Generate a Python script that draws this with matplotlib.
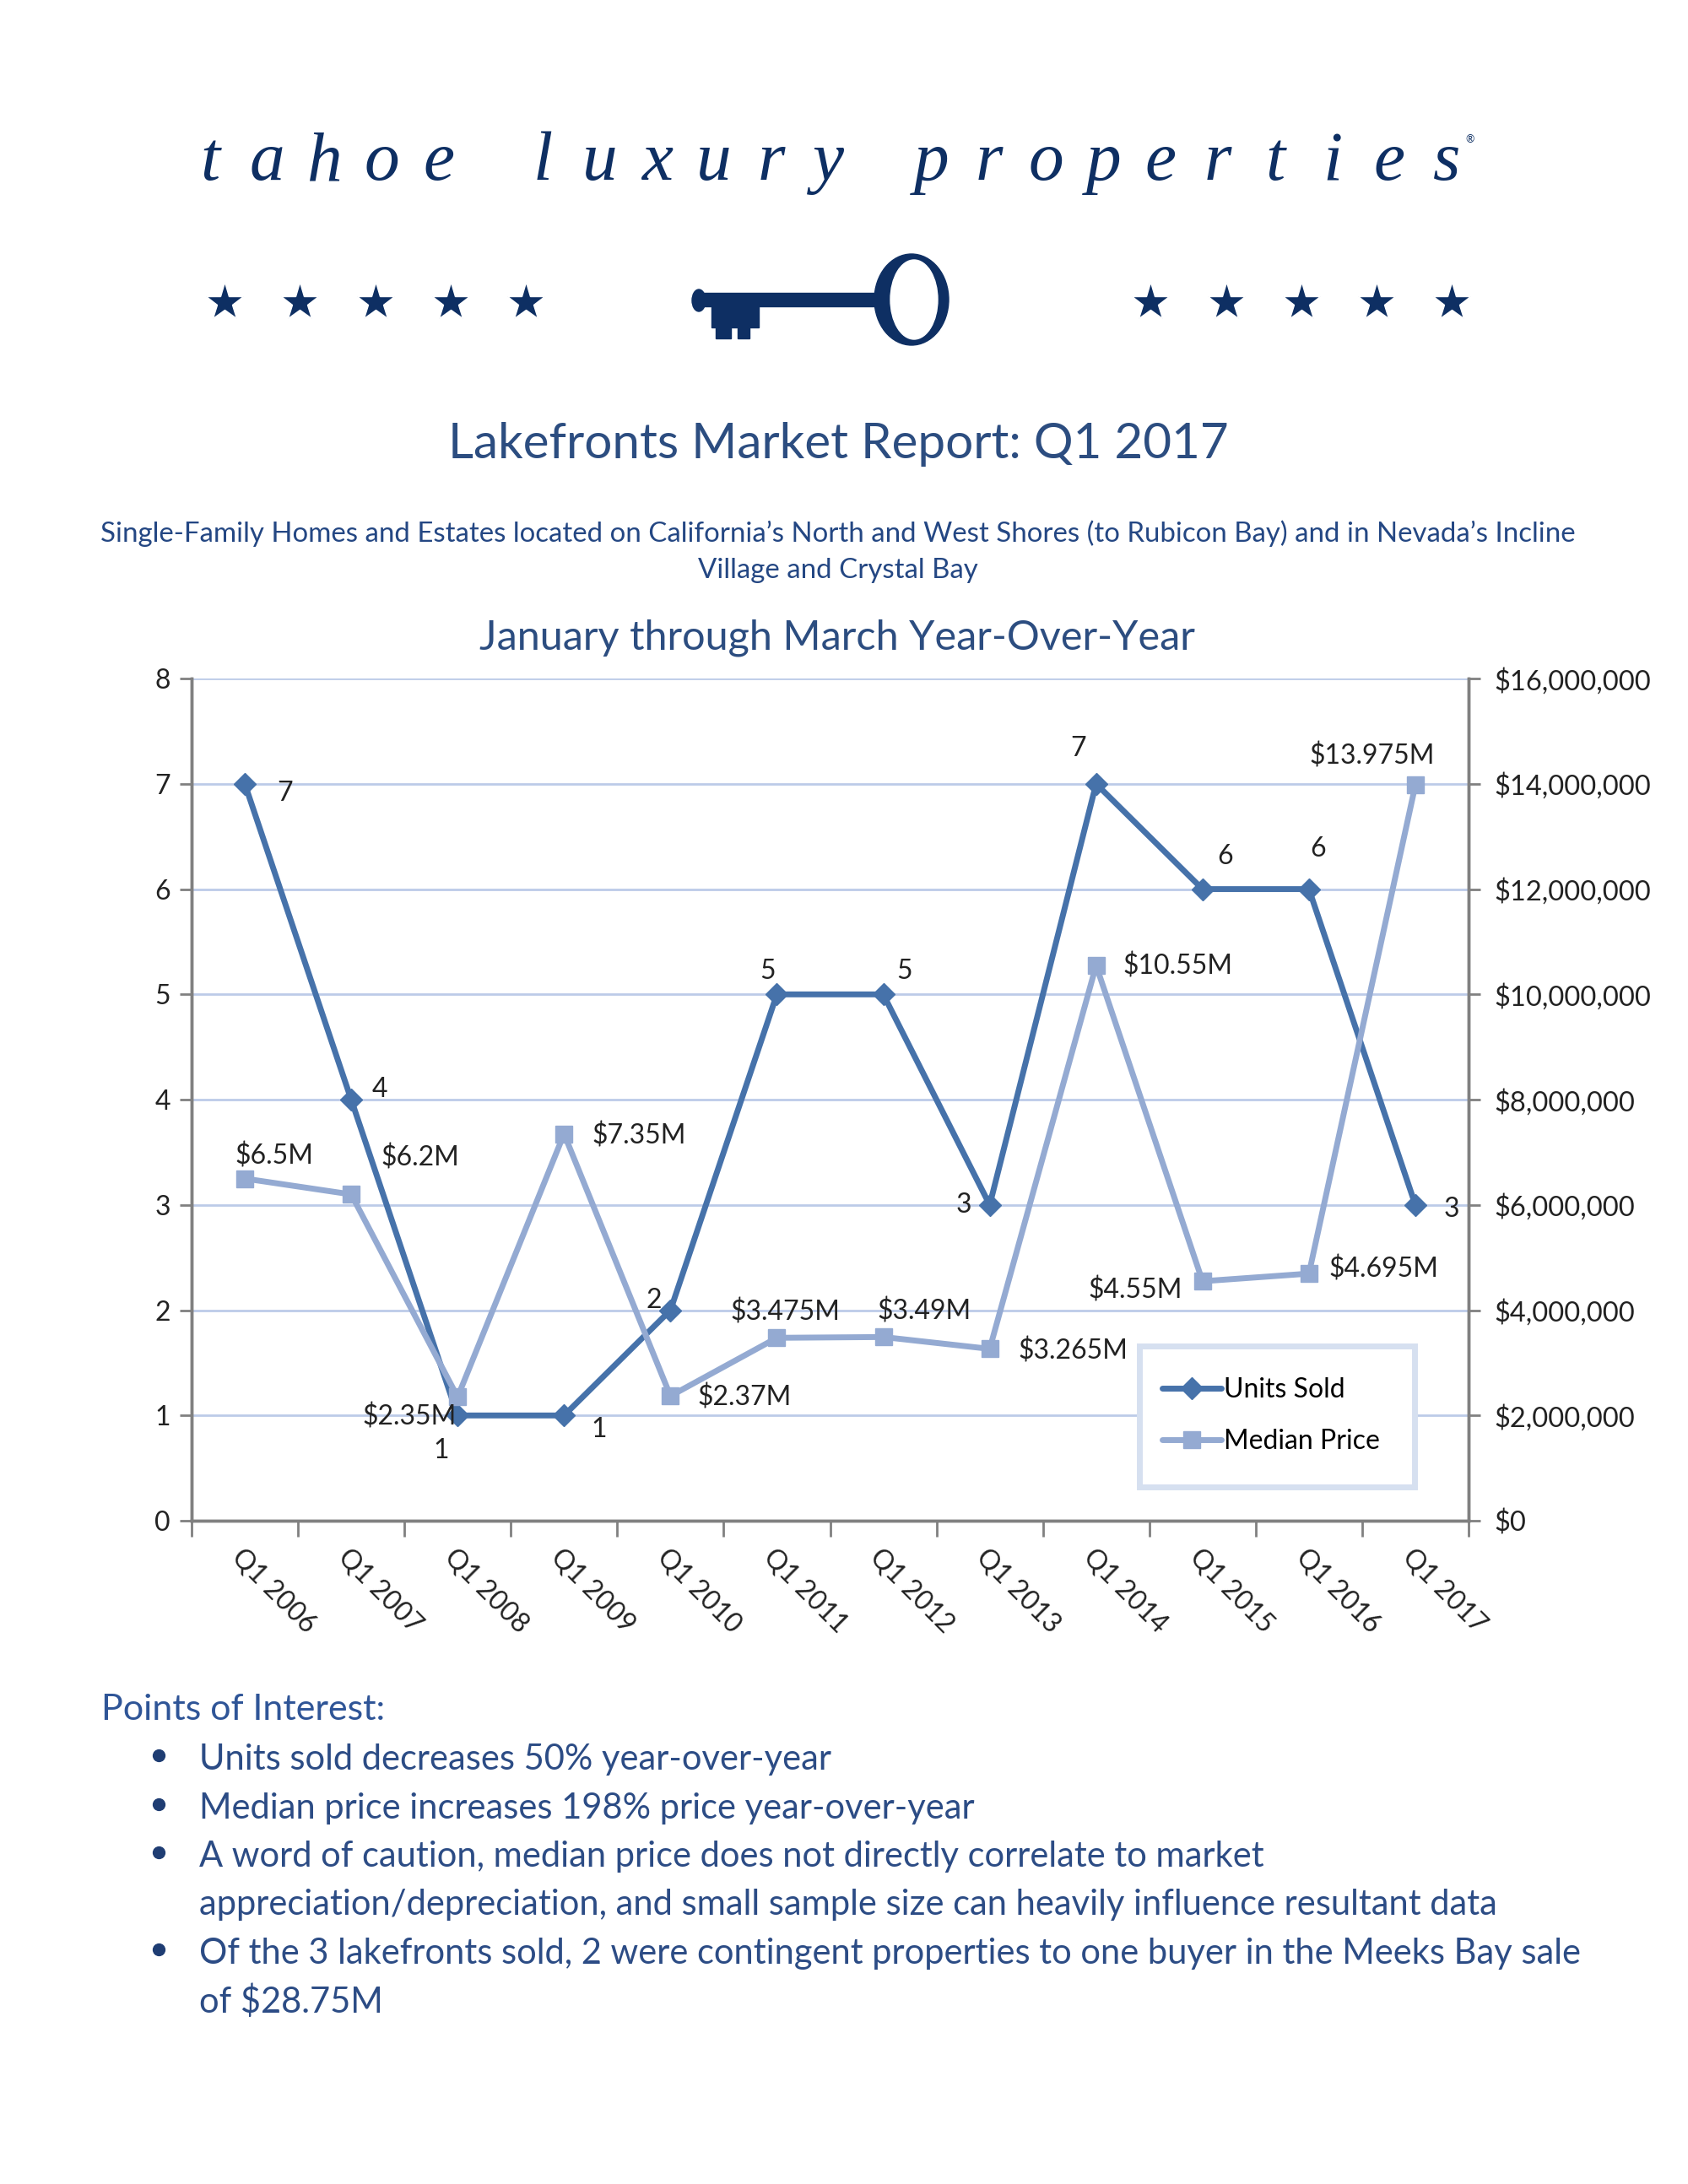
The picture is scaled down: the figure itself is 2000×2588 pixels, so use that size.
import numpy as np
import matplotlib.pyplot as plt
from matplotlib.patches import Rectangle, Ellipse
from matplotlib.ticker import FuncFormatter, MultipleLocator
from matplotlib.lines import Line2D

# data
quarters = ["Q1 2006", "Q1 2007", "Q1 2008", "Q1 2009", "Q1 2010", "Q1 2011",
            "Q1 2012", "Q1 2013", "Q1 2014", "Q1 2015", "Q1 2016", "Q1 2017"]
units_sold = [7, 4, 1, 1, 2, 5, 5, 3, 7, 6, 6, 3]
median_price_m = [6.5, 6.2, 2.35, 7.35, 2.37, 3.475, 3.49, 3.265, 10.55, 4.55, 4.695, 13.975]

# label offsets (points) as placed in the original chart
units_offsets = [(34, -8), (24, 9), (-14, -30), (30, -12), (-14, 8), (-8, 20),
                 (18, 20), (-22, 0), (-15, 30), (19, 28), (8, 34), (31, -4)]
price_offsets = [(25, 19), (59, 31), (-41, -17), (64, -2), (63, -1), (7, 22),
                 (35, 22), (71, -2), (70, -1), (-57, -8), (64, 4), (-37, 25)]

bullets = [
    ["Units sold decreases 50% year-over-year"],
    ["Median price increases 198% price year-over-year"],
    ["A word of caution, median price does not directly correlate to market",
     "appreciation/depreciation, and small sample size can heavily influence resultant data"],
    ["Of the 3 lakefronts sold, 2 were contingent properties to one buyer in the Meeks Bay sale",
     "of $28.75M"],
]

NAVY = "#0e2f63"
UNITS_C = "#4672aa"
PRICE_C = "#94aad2"
GRID_C = "#bccbe8"
TXT = "#2c4c85"
HEAD = "#2c4d80"
CHART_FONT = ["Lato", "DejaVu Sans"]

plt.rcParams["font.family"] = CHART_FONT

fig = plt.figure(figsize=(20, 25.88), dpi=100)

# ---- decoration layer in page pixels ----
deco = fig.add_axes([0, 0, 1, 1], zorder=-1)
deco.set_xlim(0, 2000)
deco.set_ylim(2588, 0)
deco.axis("off")

# spaced logo lettering
lx = 249
for ch in "tahoe luxury properties":
    if ch == " ":
        lx += 55
        continue
    deco.text(lx, 213, ch, ha="center", va="baseline", fontsize=60, style="italic",
              family="Liberation Serif", color=NAVY)
    lx += 67.75
deco.text(1742, 165, "®", ha="center", va="center", fontsize=9, color=NAVY)

star_x = [266, 355, 445, 534, 623, 1363, 1453, 1542, 1631, 1720]
for sx in star_x:
    deco.plot(sx, 358, marker="*", markersize=34, color=NAVY, mec="white", mew=1.0)

# key
deco.add_patch(Rectangle((826, 347), 226, 16, color=NAVY))
deco.add_patch(Ellipse((828, 356), 16, 26, color=NAVY))
deco.add_patch(Rectangle((843, 360), 56, 28, color=NAVY))
deco.add_patch(Rectangle((848, 384), 18, 17, color=NAVY))
deco.add_patch(Rectangle((874, 384), 14, 17, color=NAVY))
deco.add_patch(Ellipse((1080, 355), 88, 108, color=NAVY))
deco.add_patch(Ellipse((1083, 355), 56, 94, color="white"))

deco.text(993, 543, "Lakefronts Market Report: Q1 2017", ha="center", va="baseline",
          fontsize=42, color=HEAD)
deco.text(993, 642, "Single-Family Homes and Estates located on California\u2019s North and West "
          "Shores (to Rubicon Bay) and in Nevada\u2019s Incline", ha="center", va="baseline",
          fontsize=23.8, color="#244783")
deco.text(993, 685, "Village and Crystal Bay", ha="center", va="baseline",
          fontsize=23.8, color="#244783")
deco.text(992, 770, "January through March Year-Over-Year", ha="center", va="baseline",
          fontsize=35, color=HEAD)

deco.text(120, 2038, "Points of Interest:", ha="left", va="baseline", fontsize=31,
          color="#2f5597")
y = 2097
for item in bullets:
    deco.plot(188, y - 17, marker="o", markersize=10, color="#1f3d73")
    for line in item:
        deco.text(236, y, line, ha="left", va="baseline", fontsize=30, color=TXT)
        y += 57.5

# ---- chart ----
ax = fig.add_axes([0.1135, 0.3037, 0.7565, 0.3856])
ax.set_facecolor("none")
x = np.arange(len(quarters))

ax.set_xlim(-0.5, len(quarters) - 0.5)
ax.set_ylim(0, 8)
ax.yaxis.set_major_locator(MultipleLocator(1))
ax.grid(axis="y", color=GRID_C, lw=2)
ax.set_axisbelow(True)

ax.set_xticks(x)
ax.set_xticklabels(quarters, rotation=-45, ha="left", va="top", rotation_mode="anchor",
                   fontsize=23, color="#222222")
ax.set_xticks(np.arange(-0.5, len(quarters), 1), minor=True)
ax.tick_params(axis="x", which="major", length=0, pad=20)
ax.tick_params(axis="x", which="minor", length=14, width=2, color="#808080")
ax.tick_params(axis="y", length=10, width=2, color="#808080", labelsize=23,
               labelcolor="#222222", pad=8)
for s in ["left", "bottom", "right"]:
    ax.spines[s].set_color("#808080")
    ax.spines[s].set_linewidth(2.5)
ax.spines["top"].set_visible(False)

ax.plot(x, units_sold, color=UNITS_C, lw=5, marker="D", markersize=13, zorder=3,
        clip_on=False)
for xi, v, off in zip(x, units_sold, units_offsets):
    ax.annotate(str(v), (xi, v), xytext=off, textcoords="offset points",
                ha="center", va="center", fontsize=23, color="#222222")

ax2 = ax.twinx()
ax2.set_ylim(0, 16e6)
ax2.yaxis.set_major_locator(MultipleLocator(2e6))
ax2.yaxis.set_major_formatter(FuncFormatter(lambda v, p: f"${v:,.0f}"))
ax2.tick_params(axis="y", length=10, width=2, color="#808080", labelsize=23.5,
                labelcolor="#222222", pad=12)
for s in ["left", "bottom", "right"]:
    ax2.spines[s].set_color("#808080")
    ax2.spines[s].set_linewidth(2.5)
ax2.spines["top"].set_visible(False)

price = [p * 1e6 for p in median_price_m]
ax2.plot(x, price, color=PRICE_C, lw=5, marker="s", markersize=15, zorder=3)
for xi, v, off in zip(x, median_price_m, price_offsets):
    ax2.annotate(f"${v:g}M", (xi, v * 1e6), xytext=off, textcoords="offset points",
                 ha="center", va="center", fontsize=23, color="#222222")

# legend box drawn separately so its padding matches the original
ax2.add_patch(Rectangle((0.742, 0.040), 0.216, 0.167, transform=ax2.transAxes,
                        facecolor="white", edgecolor="#d6e0f0", lw=5, zorder=4))
handles = [Line2D([], [], color=UNITS_C, lw=5, marker="D", markersize=13,
                  solid_capstyle="round"),
           Line2D([], [], color=PRICE_C, lw=5, marker="s", markersize=15,
                  solid_capstyle="round")]
leg = ax2.legend(handles, ["Units Sold", "Median Price"], loc="upper left",
                 bbox_to_anchor=(0.760, 0.170), fontsize=23, frameon=False,
                 handlelength=2.2, handletextpad=0.08, labelspacing=0.95,
                 borderpad=0, borderaxespad=0)
leg.set_zorder(5)

fig.savefig("out.png", dpi=100, facecolor="white")
